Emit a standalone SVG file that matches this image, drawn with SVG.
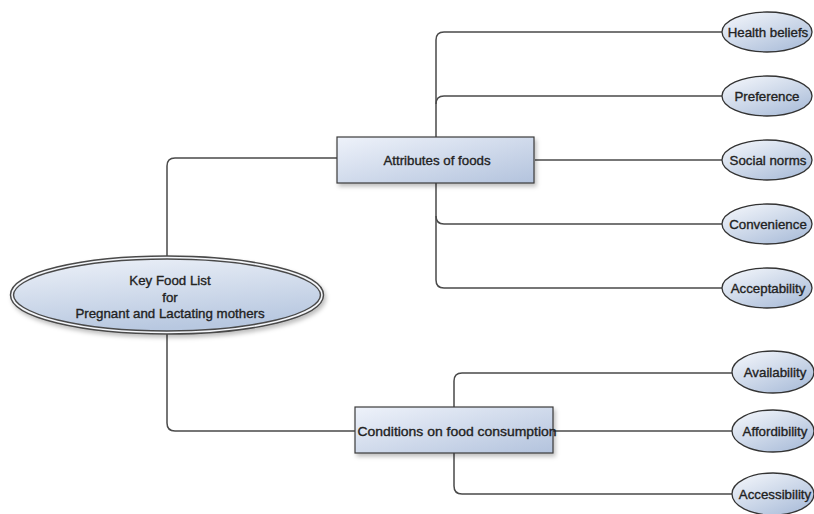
<svg xmlns="http://www.w3.org/2000/svg" width="814" height="514" viewBox="0 0 814 514">
  <defs>
    <linearGradient id="gBox" x1="0" y1="0" x2="1" y2="1">
      <stop offset="0" stop-color="#eef2fa"/>
      <stop offset="1" stop-color="#b3c3dd"/>
    </linearGradient>
    <linearGradient id="gLeaf" x1="0.1" y1="0" x2="0.9" y2="1">
      <stop offset="0" stop-color="#f3f6fb"/>
      <stop offset="1" stop-color="#a8bbd8"/>
    </linearGradient>
    <linearGradient id="gMain" x1="0" y1="0" x2="0.3" y2="1">
      <stop offset="0" stop-color="#eef2f9"/>
      <stop offset="1" stop-color="#b8c8e0"/>
    </linearGradient>
    <filter id="shadow" x="-10%" y="-20%" width="130%" height="150%">
      <feDropShadow dx="2" dy="3" stdDeviation="2" flood-color="#000" flood-opacity="0.25"/>
    </filter>
  </defs>
  <style>
    .conn { fill: none; stroke: #4a4a4a; stroke-width: 1.5; }
    .box { fill: url(#gBox); stroke: #3a3a3a; stroke-width: 1.2; filter: url(#shadow); }
    .leaf { fill: url(#gLeaf); stroke: #333; stroke-width: 1.3; }
    .txt { font-family: "Liberation Sans", Arial, sans-serif; font-size: 13.3px; fill: #222; stroke: #222; stroke-width: 0.35; text-anchor: middle; }
  </style>
  <rect width="814" height="514" fill="#ffffff"/>

  <g id="connectors">
    <path class="conn" d="M167,256 V166 Q167,158 175,158 H337"/>
    <path class="conn" d="M167,333 V423 Q167,431 175,431 H355"/>
    <path class="conn" d="M436,137 V40 Q436,32 444,32 H722"/>
    <path class="conn" d="M436,104 Q436,96 444,96 H722"/>
    <path class="conn" d="M535,160 H722"/>
    <path class="conn" d="M436,183 V280 Q436,288 444,288 H722"/>
    <path class="conn" d="M436,216 Q436,224 444,224 H722"/>
    <path class="conn" d="M454,407 V381 Q454,373 462,373 H732"/>
    <path class="conn" d="M553,431 H732"/>
    <path class="conn" d="M454,453 V486 Q454,494 462,494 H732"/>
  </g>

  <g id="main">
    <ellipse cx="167" cy="295" rx="155" ry="37.5" fill="url(#gMain)" stroke="#4a4a4a" stroke-width="4.5" filter="url(#shadow)"/>
    <ellipse cx="167" cy="295" rx="155" ry="37.5" fill="none" stroke="#f4f6fa" stroke-width="1.6"/>
    <text class="txt" x="170" y="285">Key Food List</text>
    <text class="txt" x="170" y="302">for</text>
    <text class="txt" x="170" y="318">Pregnant and Lactating mothers</text>
  </g>

  <g id="attributes">
    <rect class="box" x="337" y="137" width="197" height="46"/>
    <text class="txt" x="437" y="165">Attributes of foods</text>
  </g>

  <g id="conditions">
    <rect class="box" x="355" y="407" width="198" height="46"/>
    <text class="txt" x="457" y="436" textLength="199" lengthAdjust="spacingAndGlyphs">Conditions on food consumption</text>
  </g>

  <g id="health-beliefs">
    <ellipse class="leaf" cx="767" cy="32" rx="45" ry="20"/>
    <text class="txt" x="768" y="37">Health beliefs</text>
  </g>
  <g id="preference">
    <ellipse class="leaf" cx="767" cy="96" rx="45" ry="20"/>
    <text class="txt" x="767" y="101">Preference</text>
  </g>
  <g id="social-norms">
    <ellipse class="leaf" cx="767" cy="160" rx="45" ry="20"/>
    <text class="txt" x="768" y="165">Social norms</text>
  </g>
  <g id="convenience">
    <ellipse class="leaf" cx="767" cy="224" rx="45" ry="20"/>
    <text class="txt" x="768" y="229">Convenience</text>
  </g>
  <g id="acceptability">
    <ellipse class="leaf" cx="767" cy="288" rx="45" ry="20"/>
    <text class="txt" x="768" y="293">Acceptability</text>
  </g>
  <g id="availability">
    <ellipse class="leaf" cx="773" cy="372" rx="41" ry="21"/>
    <text class="txt" x="775" y="377">Availability</text>
  </g>
  <g id="affordibility">
    <ellipse class="leaf" cx="773" cy="431" rx="41" ry="21"/>
    <text class="txt" x="775" y="436">Affordibility</text>
  </g>
  <g id="accessibility">
    <ellipse class="leaf" cx="773" cy="494" rx="41" ry="21"/>
    <text class="txt" x="775" y="499">Accessibility</text>
  </g>
</svg>
